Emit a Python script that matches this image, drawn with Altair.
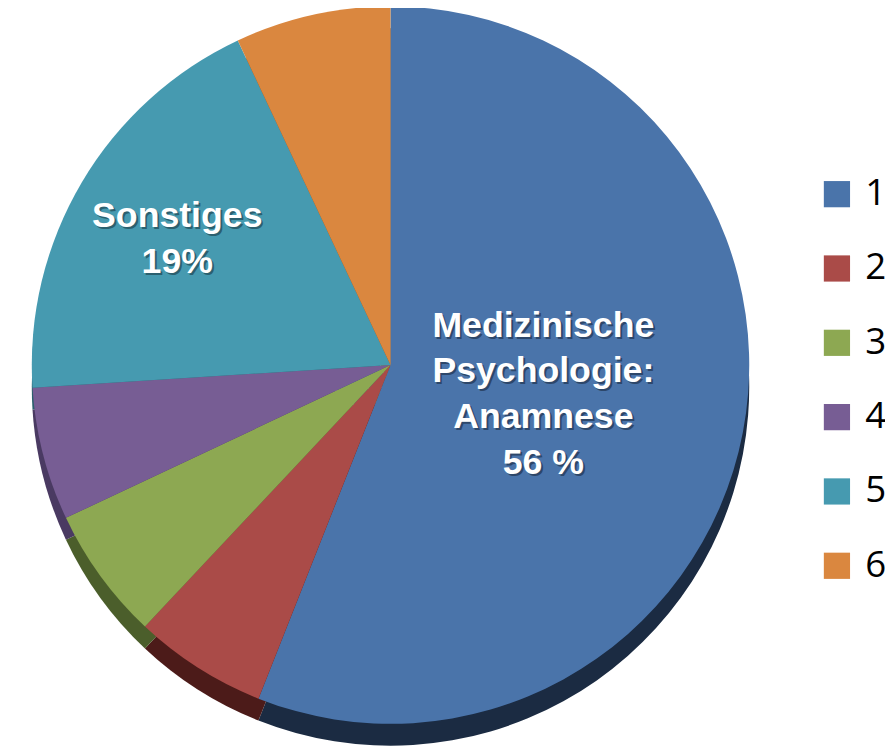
import altair as alt
import pandas as pd

categories = ["1", "2", "3", "4", "5", "6"]
values = [56, 6, 6, 6, 19, 7]
labels = ["Medizinische\nPsychologie:\nAnamnese\n56 %", "", "", "", "Sonstiges\n19%", ""]
colors = ["#4A74AA", "#AA4B48", "#8DA852", "#775D94", "#469AB0", "#DA873F"]
rim_colors = ["#1B2B42", "#4C1B19", "#4B5E2B", "#4A3A62", "#2A5F6C", "#8A5020"]

df = pd.DataFrame({"cat": categories, "value": values, "label": labels})

CX, CY, R = 386, 357, 362

theta = alt.Theta("value:Q", stack=True)
order = alt.Order("cat:N")

rim = alt.Chart(df).transform_calculate(rc="datum.cat").mark_arc(radius=R).encode(
    theta=theta, order=order,
    color=alt.Color("rc:N", scale=alt.Scale(domain=categories, range=rim_colors), legend=None),
    x=alt.value(CX), y=alt.value(CY + 22),
)

pie = alt.Chart(df).mark_arc(radius=R).encode(
    theta=theta, order=order,
    color=alt.Color(
        "cat:N",
        scale=alt.Scale(domain=categories, range=colors),
        legend=alt.Legend(
            title=None, orient="none", legendX=818, legendY=166,
            symbolType="square", symbolSize=700, symbolStrokeWidth=0,
            labelFontSize=37, labelFont="Open Sans", labelColor="#000000",
            rowPadding=37, labelOffset=10, padding=0,
        ),
    ),
    x=alt.value(CX), y=alt.value(CY),
)

def text_layer(cat, rad, nlines, color, dx=0, dy=0, opacity=1.0):
    return alt.Chart(df).transform_calculate(
        t=f"datum.cat == '{cat}' ? datum.label : ''"
    ).mark_text(
        radius=rad, lineBreak="\n", font="Liberation Sans", fontWeight="bold",
        fontSize=36, lineHeight=46, color=color, dx=dx,
        dy=dy - (nlines - 1) * 23, opacity=opacity,
        align="center", baseline="middle",
    ).encode(theta=theta, order=order, text="t:N", x=alt.value(CX), y=alt.value(CY))

chart = alt.layer(
    rim, pie,
    text_layer("1", 157, 4, "#1a2a40", 2, 2, 0.6),
    text_layer("5", 250, 2, "#1a3a45", 2, 2, 0.6),
    text_layer("1", 157, 4, "#FFFFFF"),
    text_layer("5", 250, 2, "#FFFFFF"),
).resolve_scale(color="independent").properties(
    width=885, height=738, padding=0,
    autosize=alt.AutoSizeParams(type="none"),
).configure_view(stroke=None)

chart.save("out.html", embed_options={"renderer": "svg", "actions": False})
